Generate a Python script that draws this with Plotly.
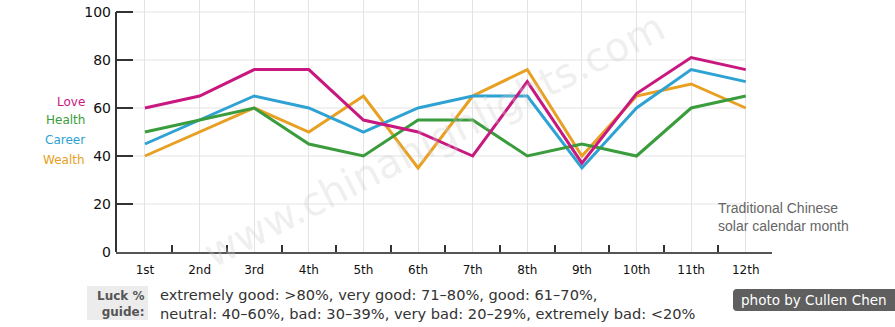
import plotly.graph_objects as go

months = ["1st", "2nd", "3rd", "4th", "5th", "6th", "7th", "8th", "9th", "10th", "11th", "12th"]
love = [60, 65, 76, 76, 55, 50, 40, 71, 37, 66, 81, 76]
health = [50, 55, 60, 45, 40, 55, 55, 40, 45, 40, 60, 65]
career = [45, 55, 65, 60, 50, 60, 65, 65, 35, 60, 76, 71]
wealth = [40, 50, 60, 50, 65, 35, 65, 76, 40, 65, 70, 60]
y_ticks = [0, 20, 40, 60, 80, 100]

series = [
    ("Love", love, "#c8187f"),
    ("Health", health, "#3a9c3c"),
    ("Career", career, "#2ea2d2"),
    ("Wealth", wealth, "#e8a023"),
]

xi = list(range(len(months)))
FONT = "DejaVu Sans"


def px(x):
    return (x - 116) / 656


def py(y):
    return (252 - y) / 252


fig = go.Figure()
for name, vals, col in series[::-1]:
    fig.add_trace(go.Scatter(x=xi, y=vals, mode="lines", name=name,
                             line=dict(color=col, width=3), showlegend=False))

shapes = []
for v in y_ticks[1:]:
    shapes.append(dict(type="line", xref="x", yref="y", x0=-0.53, x1=xi[-1], y0=v, y1=v,
                       line=dict(color="#e3e3e3", width=1), layer="below"))
shapes.append(dict(type="line", xref="paper", yref="y", x0=0, x1=0, y0=0, y1=100,
                   line=dict(color="#333333", width=2)))
shapes.append(dict(type="rect", xref="paper", yref="paper",
                   x0=px(87), x1=px(148), y0=py(320), y1=py(286),
                   fillcolor="#ececec", line=dict(width=0)))
# photo credit box with rounded left corners
x0, x1, y0, y1, r = px(733), px(895), py(311), py(289), 4
rx, ry = r / 656, r / 252
shapes.append(dict(type="path", xref="paper", yref="paper",
                   path=(f"M {x0 + rx},{y1} L {x1},{y1} L {x1},{y0} L {x0 + rx},{y0} "
                         f"Q {x0},{y0} {x0},{y0 + ry} L {x0},{y1 - ry} Q {x0},{y1} {x0 + rx},{y1} Z"),
                   fillcolor="#5f5f5f", line=dict(width=0)))

annotations = []
label_y = [62.4, 54.9, 46.5, 38.2]
for (name, vals, col), ly in zip(series, label_y):
    annotations.append(dict(text=name, xref="paper", yref="y", x=px(87), y=ly,
                            xanchor="right", yanchor="middle", showarrow=False,
                            font=dict(family=FONT, size=12, color=col)))
annotations.append(dict(text="Traditional Chinese<br>solar calendar month", xref="paper", yref="paper",
                        x=px(716), y=py(217), xanchor="left", yanchor="middle",
                        align="left", showarrow=False,
                        font=dict(family="Liberation Sans", size=14, color="#666666")))
annotations.append(dict(text="<b>Luck %</b><br><b>guide:</b>", xref="paper", yref="paper",
                        x=px(146), y=py(304), xanchor="right", yanchor="middle",
                        align="right", showarrow=False,
                        font=dict(family=FONT, size=12, color="#555555")))
annotations.append(dict(text="extremely good: >80%, very good: 71–80%, good: 61–70%,<br>"
                             "neutral: 40–60%, bad: 30–39%, very bad: 20–29%, extremely bad: <20%",
                        xref="paper", yref="paper",
                        x=px(158), y=py(304), xanchor="left", yanchor="middle",
                        align="left", showarrow=False,
                        font=dict(family=FONT, size=14.6, color="#333333")))
annotations.append(dict(text="photo by Cullen Chen", xref="paper", yref="paper",
                        x=px(814), y=py(300), xanchor="center", yanchor="middle",
                        showarrow=False,
                        font=dict(family=FONT, size=13.5, color="#ffffff")))
annotations.append(dict(text="www.chinahighlights.com", xref="paper", yref="paper",
                        x=px(434), y=py(140), xanchor="center", yanchor="middle",
                        showarrow=False, textangle=-27,
                        font=dict(family=FONT, size=40, color="rgba(205,205,205,0.32)")))

fig.update_layout(
    width=895, height=327,
    margin=dict(l=116, r=123, t=0, b=75),
    paper_bgcolor="white", plot_bgcolor="white",
    shapes=shapes, annotations=annotations,
    xaxis=dict(range=[-0.53, 11.48], tickmode="array", tickvals=xi, ticktext=months,
               showgrid=True, gridcolor="#e3e3e3", gridwidth=1, zeroline=False,
               showline=True, linecolor="#555555", linewidth=2,
               ticks="", ticklabelstandoff=6,
               minor=dict(tickmode="array", tickvals=[i + 0.5 for i in xi], ticks="inside",
                          ticklen=7, tickcolor="#333333", tickwidth=2, showgrid=False),
               tickfont=dict(family=FONT, size=12, color="#111111"), fixedrange=True),
    yaxis=dict(range=[0, 105], tickmode="array", tickvals=y_ticks,
               showgrid=False, zeroline=False, showline=False,
               ticks="inside", ticklen=17, tickwidth=2, tickcolor="#333333",
               ticklabelstandoff=4,
               tickfont=dict(family=FONT, size=14, color="#111111"), fixedrange=True),
)

fig.write_html("out.html")
